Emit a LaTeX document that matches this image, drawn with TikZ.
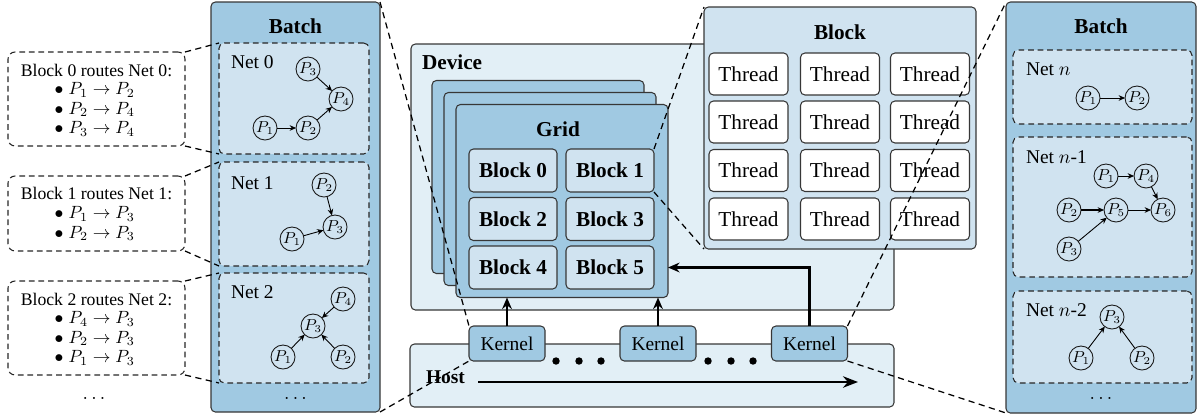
\documentclass[tikz,border=0pt]{standalone}
\usepackage{fontspec}
\setmainfont{Liberation Serif}
\usetikzlibrary{arrows.meta}
\definecolor{midblue}{RGB}{160,201,226}
\definecolor{lightblue}{RGB}{208,227,240}
\definecolor{paleblue}{RGB}{226,239,246}
\definecolor{edgegray}{RGB}{55,55,55}
\newcommand{\pxs}{0.565pt}
\newcommand{\tfont}{\fontsize{12}{14}\selectfont\bfseries}
\newcommand{\nfont}{\fontsize{11}{13}\selectfont}
\newcommand{\cfont}{\fontsize{10}{12}\selectfont}
\begin{document}
\begin{tikzpicture}[x=0.565pt,y=-0.565pt,
  every node/.style={inner sep=0pt, outer sep=0pt},
  box/.style={draw=edgegray, line width=0.6pt, rounded corners=2.5pt},
  panel/.style={box, fill=midblue},
  netbox/.style={draw=black!85, dash pattern=on 3.2pt off 2.2pt, line width=0.6pt, fill=lightblue, rounded corners=3pt, minimum width=#1},
  callout/.style={draw=black!85, dash pattern=on 3.2pt off 2.2pt, line width=0.6pt, rounded corners=4pt, minimum width=177*\pxs},
  cell/.style={box, fill=lightblue, minimum width=88*\pxs, minimum height=43*\pxs, font=\tfont},
  thread/.style={box, fill=white, minimum width=79*\pxs, minimum height=42*\pxs, font=\fontsize{12}{14}\selectfont},
  kernel/.style={box, fill=midblue, minimum width=76*\pxs, minimum height=35*\pxs, font=\nfont},
  pn/.style={draw=black!90, circle, line width=0.5pt, minimum size=24*\pxs, font=\fontsize{9}{10}\selectfont},
  netarrow/.style={line width=0.5pt, -{Stealth[length=3.6pt,width=3.2pt]}},
  bigarrow/.style={line width=1.4pt, -{Stealth[length=6.5pt,width=5.5pt]}},
  hostarrow/.style={line width=1.3pt, -{Stealth[length=8.5pt,width=6.5pt]}},
  zoomline/.style={black, line width=0.7pt, dash pattern=on 3.5pt off 2.5pt},
  dotn/.style={circle, fill=black, minimum size=4.2pt},
  lbl/.style={anchor=west, font=\nfont},
  ctext/.style={font=\cfont},
  citem/.style={anchor=west, font=\cfont}
]
\useasboundingbox (0,0) rectangle (1198,418);

% ---------- Device ----------
\node[box, fill=paleblue, minimum width=483*\pxs, minimum height=266*\pxs] (device) at (652.5,177) {};
\node[anchor=west, font=\tfont] (devlbl) at (422,62) {Device};
\node[panel, minimum width=212*\pxs, minimum height=193*\pxs] (gridA) at (538,177) {};
\node[panel, minimum width=212*\pxs, minimum height=193*\pxs] (gridB) at (550,189) {};
\node[panel, minimum width=212*\pxs, minimum height=193*\pxs] (gridF) at (562,201) {};
\node[font=\tfont] (gridlbl) at (558,129) {Grid};
\node[cell] (b0) at (513,170.5) {Block 0};
\node[cell] (b1) at (610,170.5) {Block 1};
\node[cell] (b2) at (513,219) {Block 2};
\node[cell] (b3) at (610,219) {Block 3};
\node[cell] (b4) at (513,267.5) {Block 4};
\node[cell] (b5) at (610,267.5) {Block 5};

% ---------- Host ----------
\node[box, fill=paleblue, minimum width=484*\pxs, minimum height=63*\pxs] (host) at (652,375.5) {};
\node[anchor=west, font=\nfont\bfseries] (hostlbl) at (426,377) {Host};
\coordinate (hs) at (478,382);
\coordinate (he) at (858,382);
\draw[hostarrow] (hs) -- (he);

\node[kernel] (k1) at (507,343.5) {Kernel};
\node[kernel] (k2) at (658,343.5) {Kernel};
\node[kernel] (k3) at (809.5,343.5) {Kernel};
\node[dotn] (d1) at (556,361) {};
\node[dotn] (d2) at (579,361) {};
\node[dotn] (d3) at (601,361) {};
\node[dotn] (d4) at (708,361) {};
\node[dotn] (d5) at (731,361) {};
\node[dotn] (d6) at (753,361) {};

\draw[bigarrow] (k1.north) -- (k1.north |- gridF.south);
\draw[bigarrow] (k2.north) -- (k2.north |- gridF.south);
\draw[bigarrow] (k3.north) |- (gridF.east |- b5.center);

% ---------- Block panel ----------
\node[box, fill=lightblue, minimum width=272*\pxs, minimum height=242*\pxs] (blockP) at (840,128) {};
\node[font=\tfont] (blocklbl) at (840,32) {Block};
\foreach \c/\x in {1/748.5,2/840,3/930}{
  \foreach \r/\y in {1/74,2/122,3/170.5,4/219}{
    \node[thread] (t\r\c) at (\x,\y) {Thread};
  }
}

% ---------- Left batch ----------
\node[panel, minimum width=169*\pxs, minimum height=410*\pxs] (lbatch) at (295.5,207) {};
\node[font=\tfont] (lbt) at (295.5,26) {Batch};
\node[netbox=150*\pxs, minimum height=111*\pxs] (n0) at (294,98.5) {};
\node[netbox=150*\pxs, minimum height=104*\pxs] (n1) at (294,214) {};
\node[netbox=150*\pxs, minimum height=110*\pxs] (n2) at (294,328) {};
\node[lbl] (n0l) at (231,62) {Net 0};
\node[lbl] (n1l) at (231,183) {Net 1};
\node[lbl] (n2l) at (231,292) {Net 2};
\node[font=\nfont] (ldots) at (295.5,398) {$\dots$};

% Net 0
\node[pn] (a1) at (265,128) {$P_1$};
\node[pn] (a2) at (308,128) {$P_2$};
\node[pn] (a3) at (308,69) {$P_3$};
\node[pn] (a4) at (341,99) {$P_4$};
\draw[netarrow] (a1) -- (a2);
\draw[netarrow] (a2) -- (a4);
\draw[netarrow] (a3) -- (a4);
% Net 1
\node[pn] (e2) at (324,185) {$P_2$};
\node[pn] (e3) at (335,227) {$P_3$};
\node[pn] (e1) at (292,239) {$P_1$};
\draw[netarrow] (e2) -- (e3);
\draw[netarrow] (e1) -- (e3);
% Net 2
\node[pn] (f4) at (343,299) {$P_4$};
\node[pn] (f3) at (313,326) {$P_3$};
\node[pn] (f1) at (283,357) {$P_1$};
\node[pn] (f2) at (343,357) {$P_2$};
\draw[netarrow] (f4) -- (f3);
\draw[netarrow] (f1) -- (f3);
\draw[netarrow] (f2) -- (f3);

% ---------- Callouts ----------
\node[callout, minimum height=94*\pxs] (c0) at (96.5,99) {};
\node[ctext] (c0t) at (96.5,70) {Block 0 routes Net 0:};
\node[citem] (c0a) at (54.5,90) {$\bullet$\hspace{3pt}$P_1\rightarrow P_2$};
\node[citem] (c0b) at (54.5,109.5) {$\bullet$\hspace{3pt}$P_2\rightarrow P_4$};
\node[citem] (c0c) at (54.5,129) {$\bullet$\hspace{3pt}$P_3\rightarrow P_4$};

\node[callout, minimum height=75*\pxs] (c1) at (96.5,213.5) {};
\node[ctext] (c1t) at (96.5,193.5) {Block 1 routes Net 1:};
\node[citem] (c1a) at (54.5,214) {$\bullet$\hspace{3pt}$P_1\rightarrow P_3$};
\node[citem] (c1b) at (54.5,233.5) {$\bullet$\hspace{3pt}$P_2\rightarrow P_3$};

\node[callout, minimum height=94*\pxs] (c2) at (96.5,328) {};
\node[ctext] (c2t) at (96.5,299) {Block 2 routes Net 2:};
\node[citem] (c2a) at (54.5,319) {$\bullet$\hspace{3pt}$P_4\rightarrow P_3$};
\node[citem] (c2b) at (54.5,338.5) {$\bullet$\hspace{3pt}$P_2\rightarrow P_3$};
\node[citem] (c2c) at (54.5,358) {$\bullet$\hspace{3pt}$P_1\rightarrow P_3$};
\node[font=\nfont] (cdots) at (94,398) {$\dots$};

% ---------- Right batch ----------
\node[panel, minimum width=190*\pxs, minimum height=411*\pxs] (rbatch) at (1101,207.5) {};
\node[font=\tfont] (rbt) at (1101,26) {Batch};
\node[netbox=179*\pxs, minimum height=74*\pxs] (m0) at (1102.5,87) {};
\node[netbox=179*\pxs, minimum height=140*\pxs] (m1) at (1102.5,207) {};
\node[netbox=179*\pxs, minimum height=92*\pxs] (m2) at (1102.5,337) {};
\node[lbl] (m0l) at (1026,69) {Net $n$};
\node[lbl] (m1l) at (1026,157) {Net $n$-1};
\node[lbl] (m2l) at (1026,310) {Net $n$-2};
\node[font=\nfont] (rdots) at (1101,398) {$\dots$};

% Net n
\node[pn] (g1) at (1088,98) {$P_1$};
\node[pn] (g2) at (1137,98) {$P_2$};
\draw[netarrow] (g1) -- (g2);
% Net n-1
\node[pn] (h1) at (1106,176) {$P_1$};
\node[pn] (h4) at (1146,176) {$P_4$};
\node[pn] (h2) at (1069,210) {$P_2$};
\node[pn] (h5) at (1116,210) {$P_5$};
\node[pn] (h6) at (1163,210) {$P_6$};
\node[pn] (h3) at (1069,249) {$P_3$};
\draw[netarrow] (h1) -- (h4);
\draw[netarrow] (h4) -- (h6);
\draw[netarrow, line width=0.8pt] (h2) -- (h5);
\draw[netarrow] (h5) -- (h6);
\draw[netarrow] (h3) -- (h5);
% Net n-2
\node[pn] (q3) at (1112,317) {$P_3$};
\node[pn] (q1) at (1081,358) {$P_1$};
\node[pn] (q2) at (1142,358) {$P_2$};
\draw[netarrow] (q1) -- (q3);
\draw[netarrow] (q2) -- (q3);

% ---------- Zoom lines ----------
\draw[zoomline] (c0.north east) -- (n0.north west);
\draw[zoomline] (c0.south east) -- (n0.south west);
\draw[zoomline] (c1.north east) -- (n1.north west);
\draw[zoomline] (c1.south east) -- (n1.south west);
\draw[zoomline] (c2.north east) -- (n2.north west);
\draw[zoomline] (c2.south east) -- (n2.south west);
\draw[zoomline] (lbatch.north east) -- (k1.north west);
\draw[zoomline] (lbatch.south east) -- (k1.south west);
\draw[zoomline] (b1.north east) -- (blockP.north west);
\draw[zoomline] (b1.south east) -- (blockP.south west);
\draw[zoomline] (k3.north east) -- (rbatch.north west);
\draw[zoomline] (k3.south east) -- (rbatch.south west);
\end{tikzpicture}
\end{document}
